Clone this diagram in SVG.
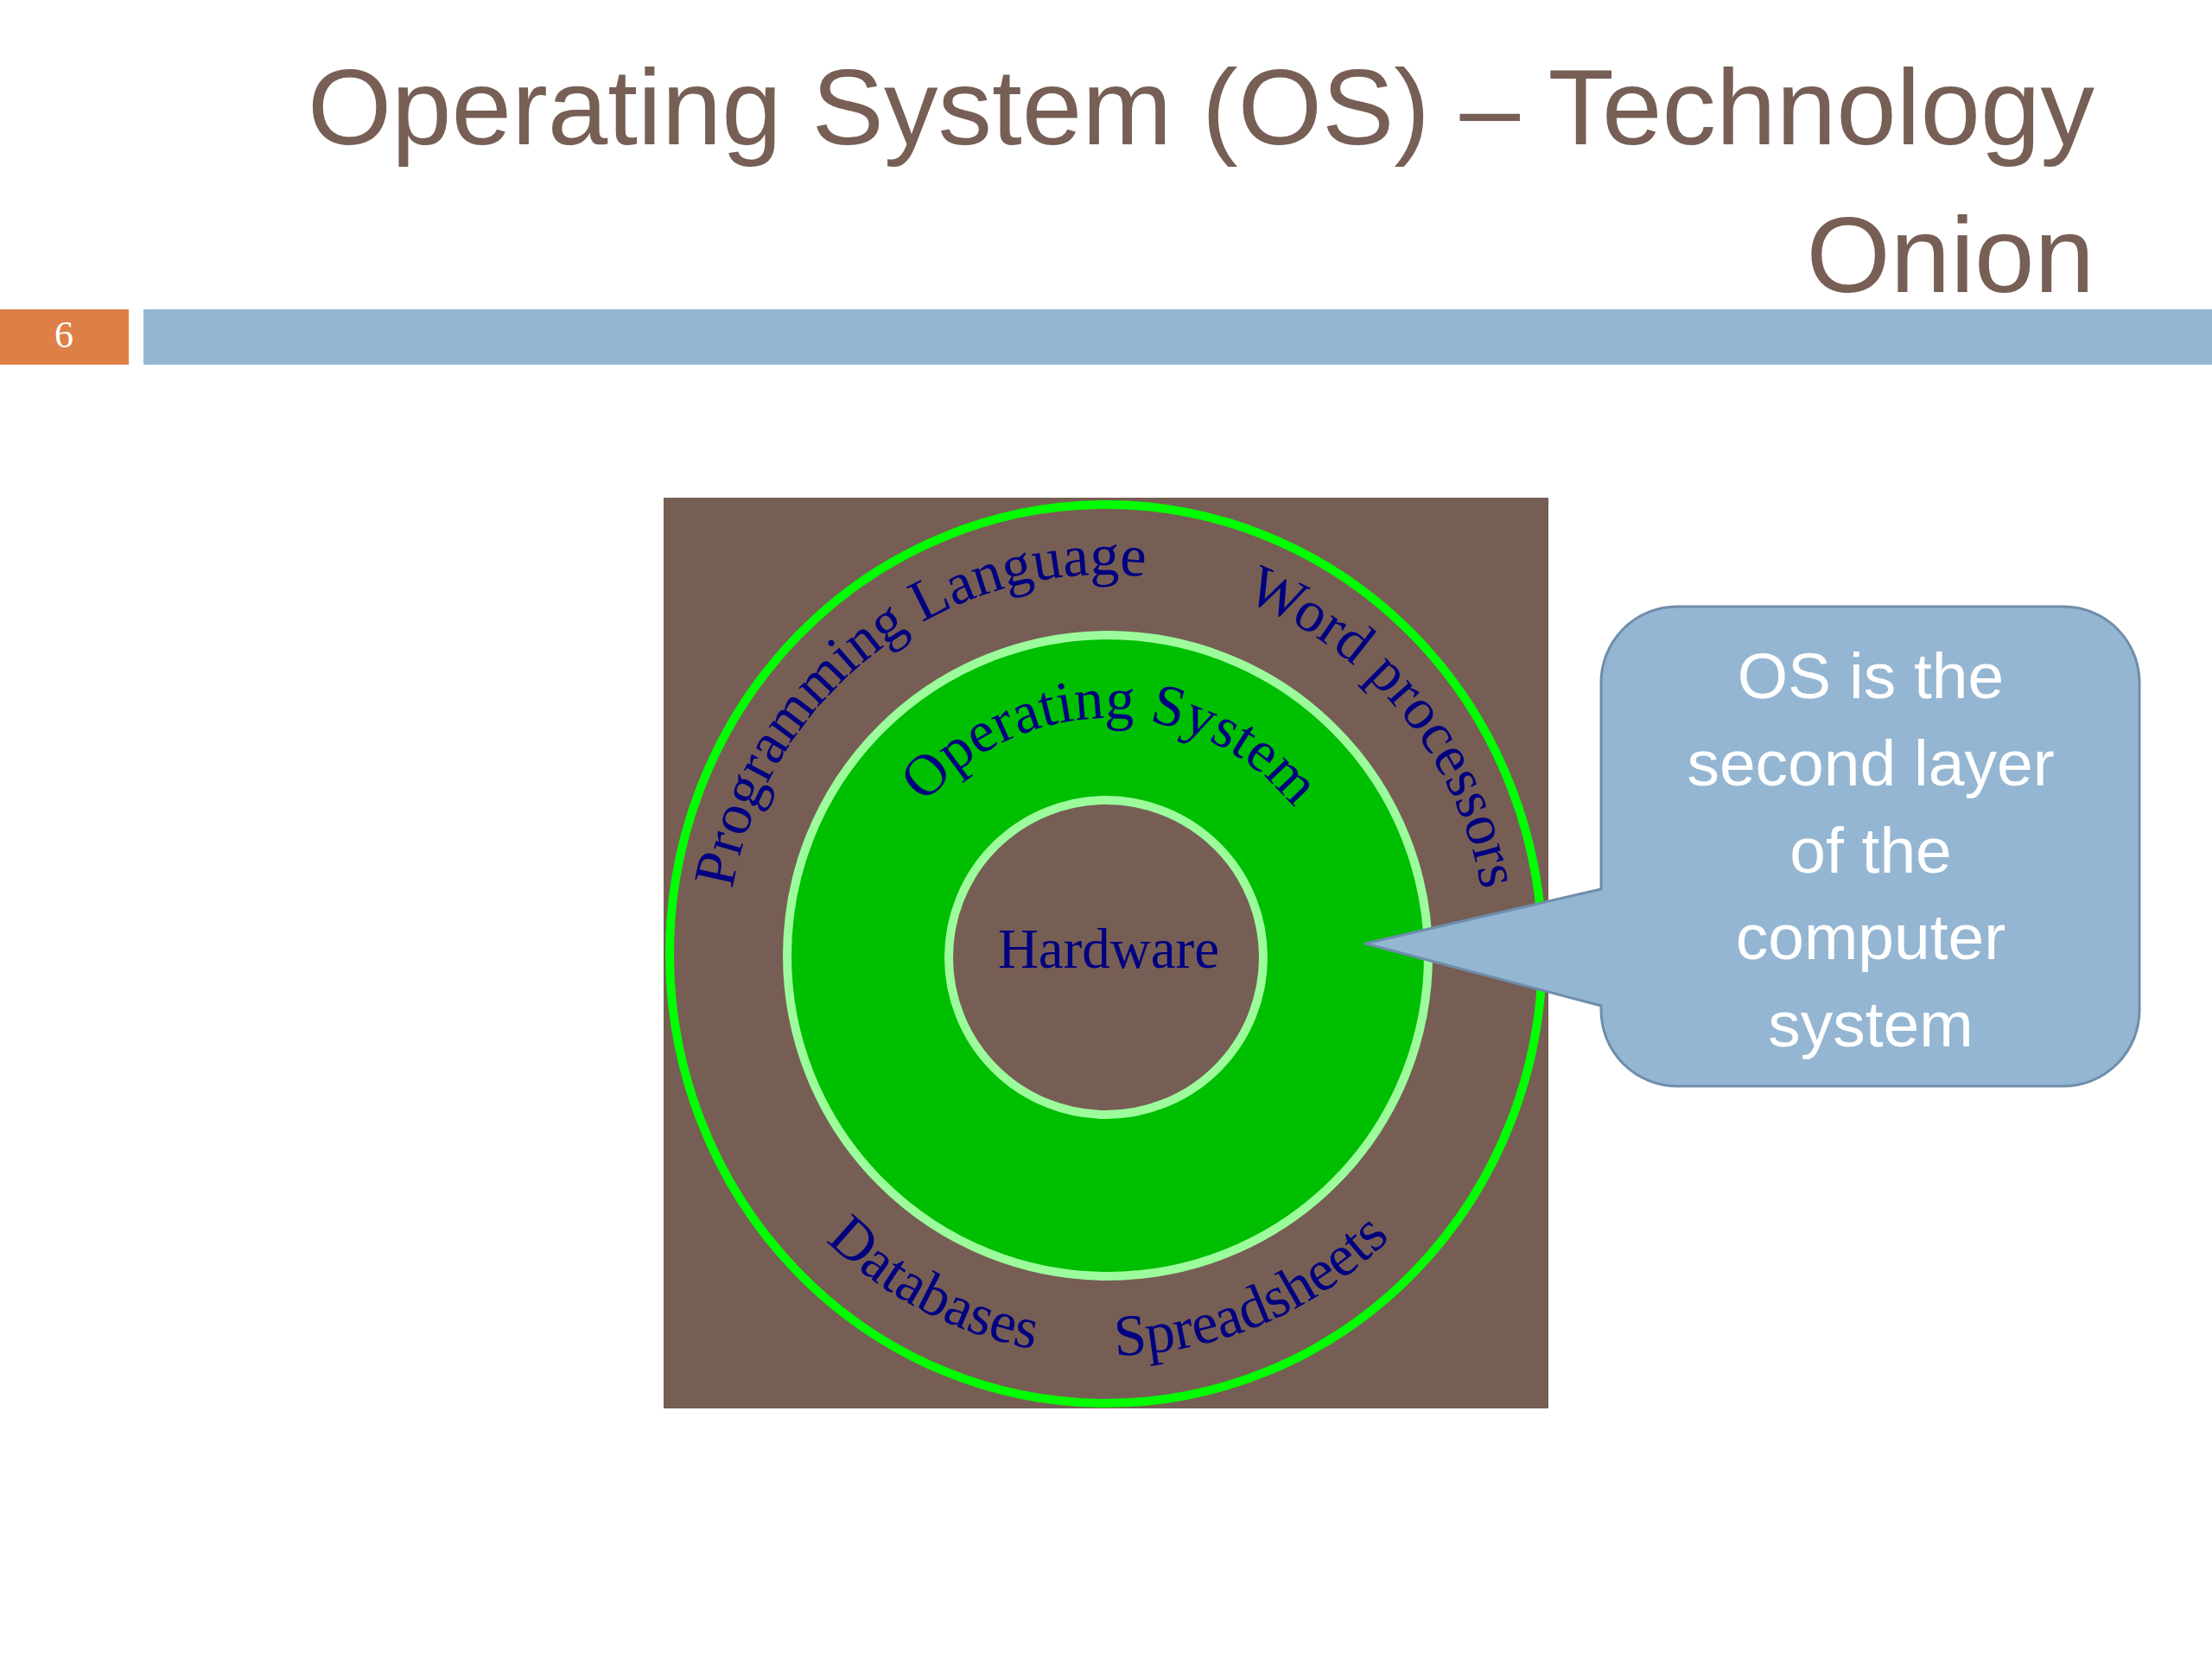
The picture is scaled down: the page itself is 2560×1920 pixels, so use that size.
<svg xmlns="http://www.w3.org/2000/svg" xmlns:xlink="http://www.w3.org/1999/xlink" width="2560" height="1920" viewBox="0 0 2560 1920">
  <style>
    .title { font-family: "Liberation Sans", Arial, sans-serif; font-size: 125px; fill: #775F55; text-anchor: end; }
    .ring-label { font-family: "Liberation Serif", "Times New Roman", serif; font-size: 68px; fill: #000080; }
    .core-label { font-family: "Liberation Serif", "Times New Roman", serif; font-size: 65px; fill: #000080; text-anchor: middle; }
    .callout-text { font-family: "Liberation Sans", Arial, sans-serif; font-size: 75px; fill: #FFFFFF; text-anchor: middle; }
    .light-ring { stroke: #9CFC9C; stroke-width: 10; }
  </style>
  <defs>
    <path id="arcTop" d="M 841,1105 A 440,440 0 0 1 1721,1105"/>
    <path id="arcMid" d="M 1007,1106 A 275,275 0 0 1 1557,1106"/>
    <path id="arcBot" d="M 817,1105 A 464,464 0 0 0 1745,1105"/>
  </defs>
  <rect x="0" y="0" width="2560" height="1920" fill="#FFFFFF"/>

  <g id="header">
    <text class="title" x="2424" y="167">Operating System (OS) – Technology</text>
    <text class="title" x="2424" y="338">Onion</text>
    <rect x="0" y="358" width="149" height="64" fill="#DD8047"/>
    <rect x="166" y="358" width="2394" height="64" fill="#94B6D2"/>
    <text x="74" y="402" font-family="Liberation Serif, serif" font-size="44" fill="#FFFFFF" text-anchor="middle">6</text>
  </g>

  <g id="onion">
    <rect x="768" y="576" width="1024" height="1054" fill="#765E54"/>
    <g id="outer-layer">
      <ellipse cx="1280" cy="1104" rx="505" ry="520" fill="#765E54" stroke="#00FF00" stroke-width="10"/>
      <text class="ring-label"><textPath xlink:href="#arcTop" href="#arcTop" startOffset="406" text-anchor="middle">Programming Language</textPath></text>
      <text class="ring-label"><textPath xlink:href="#arcTop" href="#arcTop" startOffset="1080" text-anchor="middle">Word processors</textPath></text>
      <text class="ring-label"><textPath xlink:href="#arcBot" href="#arcBot" startOffset="506" text-anchor="middle">Databases</textPath></text>
      <text class="ring-label"><textPath xlink:href="#arcBot" href="#arcBot" startOffset="916" text-anchor="middle">Spreadsheets</textPath></text>
    </g>
    <g id="os-layer">
      <circle class="light-ring" cx="1282" cy="1106" r="371" fill="#00BE00"/>
      <text class="ring-label"><textPath xlink:href="#arcMid" href="#arcMid" startOffset="435" text-anchor="middle">Operating System</textPath></text>
    </g>
    <g id="hardware-layer">
      <circle class="light-ring" cx="1280" cy="1108" r="182" fill="#765E54"/>
      <text class="core-label" x="1283" y="1120">Hardware</text>
    </g>
  </g>

  <g id="connectors">
    <g id="callout">
      <path d="M 1941,702 H 2388 A 88,88 0 0 1 2476,790 V 1169 A 88,88 0 0 1 2388,1257 H 1941 A 88,88 0 0 1 1853,1169 V 1164 L 1580,1092 L 1853,1029 V 790 A 88,88 0 0 1 1941,702 Z" fill="#94B6D2" stroke="#6F8DAA" stroke-width="3" stroke-linejoin="round"/>
      <text class="callout-text" x="2165" y="808">OS is the</text>
      <text class="callout-text" x="2165" y="909">second layer</text>
      <text class="callout-text" x="2165" y="1010">of the</text>
      <text class="callout-text" x="2165" y="1110">computer</text>
      <text class="callout-text" x="2165" y="1211">system</text>
    </g>
  </g>
</svg>
